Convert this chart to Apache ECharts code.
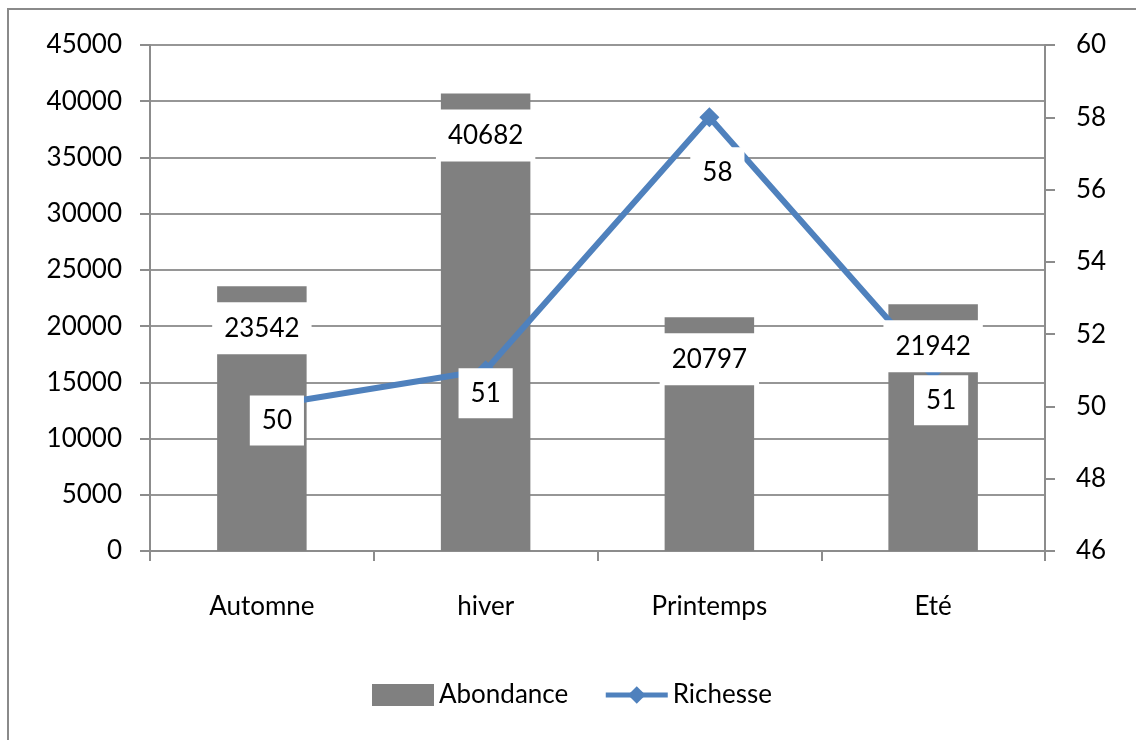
<!DOCTYPE html>
<html>
<head>
<meta charset="utf-8">
<script src="https://cdn.jsdelivr.net/npm/echarts@6/dist/echarts.min.js"></script>
<style>
  html, body { margin: 0; padding: 0; background: #fff; }
  #chart { width: 1136px; height: 740px; }
</style>
</head>
<body>
<div id="chart"></div>
<script>
  // saisons et valeurs
  const seasons = ['Automne', 'hiver', 'Printemps', 'Eté'];
  const abondance = [23542, 40682, 20797, 21942];
  const richesse = [50, 51, 58, 51];

  // decalage des etiquettes de la courbe (en px, par rapport au point)
  const richLabelShift = [[15, 14], [0, 23], [8, 55], [8, 30]];

  const font = 'Lato, "Open Sans", sans-serif';
  const axisGray = '#8c8c8c';
  const blue = '#4f81bd';

  let chart = echarts.init(document.getElementById('chart'));

  let richData = richesse.map((v, i) => ({
    value: v,
    label: { offset: richLabelShift[i] }
  }));

  let barLabel = {
    show: true,
    position: 'insideTop',
    distance: 16,
    fontFamily: font,
    fontSize: 26,
    color: '#000',
    backgroundColor: '#fff',
    padding: [11, 12],
    lineHeight: 30
  };

  chart.setOption({
    animation: false,
    textStyle: { fontFamily: font },
    graphic: [{
      type: 'rect',
      shape: { x: 8, y: 9, width: 1150, height: 760 },
      style: { fill: 'none', stroke: '#8a8a8a', lineWidth: 2 },
      silent: true
    }],
    grid: { left: 150, right: 91, top: 45, bottom: 189 },
    legend: {
      left: 367,
      top: 677,
      itemWidth: 62,
      itemHeight: 22,
      itemGap: 35,
      textStyle: { fontFamily: font, fontSize: 26, color: '#000' },
      lineStyle: { width: 5 },
      data: [{ name: 'Abondance', icon: 'rect' }, { name: 'Richesse' }]
    },
    xAxis: {
      type: 'category',
      data: seasons,
      axisLine: { lineStyle: { color: axisGray, width: 2 } },
      axisTick: { show: true, length: 10, lineStyle: { color: axisGray, width: 2 } },
      axisLabel: { fontFamily: font, fontSize: 26, color: '#000', margin: 43 }
    },
    yAxis: [{
      type: 'value',
      min: 0,
      max: 45000,
      interval: 5000,
      axisLine: { show: true, lineStyle: { color: axisGray, width: 2 } },
      axisTick: { show: true, length: 10, lineStyle: { color: axisGray, width: 2 } },
      axisLabel: {
        fontFamily: font, fontSize: 26, color: '#000', margin: 28,
        formatter: (v) => String(v)
      },
      splitLine: { lineStyle: { color: '#969696', width: 2 } }
    }, {
      type: 'value',
      min: 46,
      max: 60,
      interval: 2,
      position: 'right',
      axisLine: { show: true, lineStyle: { color: axisGray, width: 2 } },
      axisTick: { show: true, length: 10, lineStyle: { color: axisGray, width: 2 } },
      axisLabel: { fontFamily: font, fontSize: 26, color: '#000', margin: 31 },
      splitLine: { show: false }
    }],
    series: [{
      name: 'Abondance',
      type: 'bar',
      data: abondance,
      barWidth: '40%',
      itemStyle: { color: '#808080' },
      z: 2
    }, {
      name: 'Richesse',
      type: 'line',
      yAxisIndex: 1,
      data: richData,
      symbol: 'diamond',
      symbolSize: 20,
      lineStyle: { color: blue, width: 6 },
      itemStyle: { color: blue },
      label: {
        show: true,
        position: 'inside',
        fontFamily: font,
        fontSize: 26,
        color: '#000',
        backgroundColor: '#fff',
        padding: [10, 12],
        lineHeight: 30
      },
      z: 3
    }, {
      // etiquettes des barres, au-dessus de la courbe
      name: 'AbondanceLabels',
      type: 'bar',
      data: abondance,
      barWidth: '40%',
      barGap: '-100%',
      itemStyle: { color: 'rgba(0,0,0,0)' },
      label: barLabel,
      silent: true,
      z: 4
    }]
  });
</script>
</body>
</html>
